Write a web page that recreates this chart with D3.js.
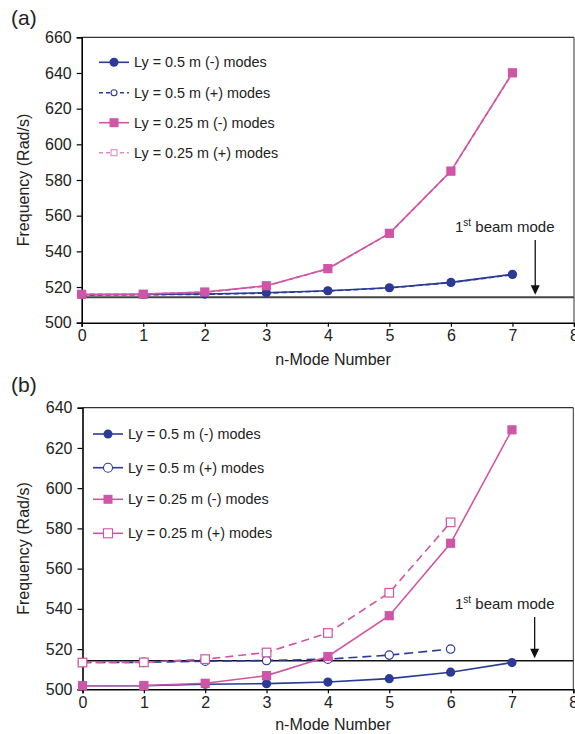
<!DOCTYPE html>
<html><head><meta charset="utf-8">
<script src="https://cdn.jsdelivr.net/npm/d3@7"></script>
<style>
body{margin:0;background:#fff;}
svg text{font-family:"Liberation Sans",Arial,Helvetica,sans-serif;fill:#222;}
</style></head>
<body><svg id="c" width="575" height="734"></svg>
<script>
// ---- data ----
const modes = [0,1,2,3,4,5,6,7];
const xTicks = [0,1,2,3,4,5,6,7,8];
const yTicksA = [500,520,540,560,580,600,620,640,660];
const yTicksB = [500,520,540,560,580,600,620,640];
const seriesNames = ["Ly = 0.5 m (-) modes","Ly = 0.5 m (+) modes","Ly = 0.25 m (-) modes","Ly = 0.25 m (+) modes"];
const beamFreq = 514.2;
const beamArrowX = 7.37;

const a_ly05_minus  = [515.7, 515.8, 516.1, 516.8, 517.9, 519.6, 522.6, 527.1];
const a_ly05_plus   = [515.6, 515.7, 515.9, 516.6, 517.8, 519.5, 522.5, 526.9];
const a_ly025_minus = [515.9, 516.0, 517.2, 520.7, 530.3, 550.1, 585.0, 640.1];
const a_ly025_plus  = [515.9, 516.0, 517.1, 520.6, 530.2, 550.0, 584.9, 640.0];

const b_ly05_minus  = [501.8, 501.8, 502.5, 502.8, 503.6, 505.3, 508.5, 513.3];
const b_ly05_plus   = [513.3, 513.4, 514.0, 514.3, 515.0, 517.0, 520.0];
const b_ly025_minus = [501.8, 501.9, 503.0, 506.8, 516.3, 536.6, 572.6, 629.0];
const b_ly025_plus  = [513.3, 513.4, 515.0, 518.3, 528.0, 548.0, 583.0];

const BLUE = "#2b3a96", PINK = "#cf55a7";
const svg = d3.select("#c");

function panel(o){
  const g = svg.append("g");
  const x = d3.scaleLinear().domain([0,8]).range([o.x0,o.x1]);
  const y = d3.scaleLinear().domain(o.yDomain).range([o.y0,o.y1]);
  // frame
  g.append("line").attr("x1",o.x0).attr("x2",o.x1).attr("y1",o.y1).attr("y2",o.y1).attr("stroke","#333").attr("stroke-width",1.2);
  g.append("line").attr("x1",o.x1).attr("x2",o.x1).attr("y1",o.y1).attr("y2",o.y0).attr("stroke","#333").attr("stroke-width",1);
  // axes
  const ax = g.append("g").attr("transform",`translate(0,${o.y0})`)
    .call(d3.axisBottom(x).tickValues(xTicks).tickSize(4).tickPadding(3).tickFormat(d3.format("d")));
  const ay = g.append("g").attr("transform",`translate(${o.x0},0)`)
    .call(d3.axisLeft(y).tickValues(o.yTicks).tickSize(5).tickPadding(5).tickFormat(d3.format("d")));
  [ax,ay].forEach(a=>{
    a.select(".domain").attr("stroke","#000").attr("stroke-width",1.6);
    a.selectAll(".tick line").attr("stroke","#000").attr("stroke-width",1.2);
    a.selectAll(".tick text").attr("font-size",16).attr("fill","#222")
      .style("font-family",'"Liberation Sans",Arial,sans-serif');
  });
  // axis titles
  g.append("text").attr("x",333).attr("y",o.xTitleY).attr("text-anchor","middle").attr("font-size",16).text("n-Mode Number");
  g.append("text").attr("transform",`translate(${o.yTitleX},${(o.y0+o.y1)/2}) rotate(-90)`)
    .attr("text-anchor","middle").attr("font-size",16).text("Frequency (Rad/s)");
  g.append("text").attr("x",11).attr("y",o.labelY).attr("font-size",21).text(o.label);
  // beam line
  g.append("line").attr("x1",o.x0).attr("x2",o.x1).attr("y1",y(beamFreq)).attr("y2",y(beamFreq))
    .attr("stroke",o.beamColor).attr("stroke-width",o.beamWidth);
  // arrow
  const axp = x(beamArrowX);
  g.append("line").attr("x1",axp).attr("x2",axp).attr("y1",o.arrowTop).attr("y2",y(beamFreq)-10).attr("stroke","#111").attr("stroke-width",1.3);
  g.append("path").attr("d",`M${axp-4.5},${y(beamFreq)-12}L${axp+4.5},${y(beamFreq)-12}L${axp},${y(beamFreq)-2.5}Z`).attr("fill","#111");
  const t = g.append("text").attr("x",455).attr("y",o.arrowTop-8).attr("font-size",15);
  t.append("tspan").text("1");
  t.append("tspan").attr("font-size",10).attr("dy",-6).text("st");
  t.append("tspan").attr("dy",6).text(" beam mode");

  // series
  const line = d3.line().x((d,i)=>x(modes[i])).y(d=>y(d));
  o.series.forEach(s=>{
    g.append("path").datum(s.data).attr("d",line).attr("fill","none")
      .attr("stroke",s.color).attr("stroke-width",1.6).attr("stroke-dasharray",s.dash||null);
    const m = g.append("g");
    s.data.forEach((d,i)=>{
      if(s.shape==="circle"){
        m.append("circle").attr("cx",x(modes[i])).attr("cy",y(d)).attr("r",s.r)
          .attr("fill",s.open?"#fff":s.color).attr("stroke",s.color).attr("stroke-width",s.open?1.2:0);
      } else {
        m.append("rect").attr("x",x(modes[i])-s.r).attr("y",y(d)-s.r).attr("width",2*s.r).attr("height",2*s.r)
          .attr("fill",s.open?"#fff":s.color).attr("stroke",s.color).attr("stroke-width",s.open?1.2:0);
      }
    });
  });
  // legend
  o.legend.forEach((L,i)=>{
    const ly = o.legRows[i];
    g.append("line").attr("x1",o.legX0).attr("x2",o.legX0+30).attr("y1",ly).attr("y2",ly)
      .attr("stroke",L.color).attr("stroke-width",1.6).attr("stroke-dasharray",L.dash||null);
    const cx = o.legX0+15;
    if(L.shape==="circle") g.append("circle").attr("cx",cx).attr("cy",ly).attr("r",L.r)
      .attr("fill",L.open?"#fff":L.color).attr("stroke",L.color).attr("stroke-width",L.open?1.1:0);
    else g.append("rect").attr("x",cx-L.r).attr("y",ly-L.r).attr("width",2*L.r).attr("height",2*L.r)
      .attr("fill",L.open?"#fff":L.color).attr("stroke",L.color).attr("stroke-width",L.open?1.1:0);
    g.append("text").attr("x",o.legX0+35).attr("y",ly+5).attr("font-size",14.4).text(seriesNames[i]);
  });
}

panel({
  label:"(a)", labelY:25,
  x0:81.7, x1:574, y0:322.7, y1:37.3, yDomain:[500,660], yTicks:yTicksA,
  xTitleY:365, yTitleX:29, beamColor:"#444", beamWidth:2, arrowTop:240,
  series:[
    {data:a_ly05_plus, color:BLUE, shape:"circle", r:3.5, open:true, dash:"5,3"},
    {data:a_ly025_plus, color:PINK, shape:"rect", r:3.5, open:true, dash:"5,3"},
    {data:a_ly05_minus, color:BLUE, shape:"circle", r:4.6},
    {data:a_ly025_minus, color:PINK, shape:"rect", r:4.6}
  ],
  legX0:99, legRows:[62.3,92.7,122.7,152.7],
  legend:[
    {color:BLUE, shape:"circle", r:4.5},
    {color:BLUE, shape:"circle", r:3, open:true, dash:"4,3"},
    {color:PINK, shape:"rect", r:4.5},
    {color:"#dc8cc2", shape:"rect", r:3, open:true, dash:"4,3"}
  ]
});

panel({
  label:"(b)", labelY:392,
  x0:82.5, x1:573.3, y0:689.3, y1:407.7, yDomain:[500,640], yTicks:yTicksB,
  xTitleY:730, yTitleX:29, beamColor:"#111", beamWidth:1.3, arrowTop:617,
  series:[
    {data:b_ly05_plus, color:BLUE, shape:"circle", r:4.2, open:true, dash:"9,5"},
    {data:b_ly05_minus, color:BLUE, shape:"circle", r:4.6},
    {data:b_ly025_minus, color:PINK, shape:"rect", r:4.6},
    {data:b_ly025_plus, color:PINK, shape:"rect", r:4.3, open:true, dash:"8,5"}
  ],
  legX0:93, legRows:[434,467.7,499.3,533.3],
  legend:[
    {color:BLUE, shape:"circle", r:4.5},
    {color:BLUE, shape:"circle", r:4.5, open:true},
    {color:PINK, shape:"rect", r:4.5},
    {color:PINK, shape:"rect", r:4.5, open:true}
  ]
});
</script></body></html>
